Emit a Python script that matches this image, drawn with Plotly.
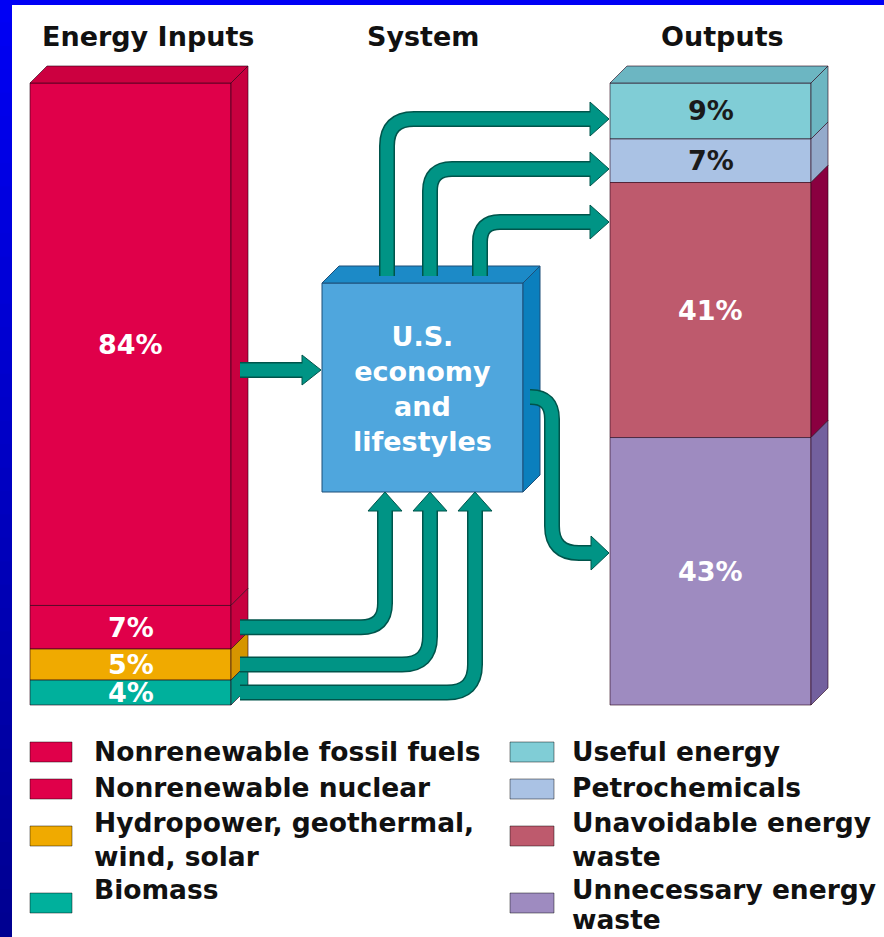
import plotly.graph_objects as go

# ---------------- data ----------------
titles = ["Energy Inputs", "System", "Outputs"]
input_labels = ["Nonrenewable fossil fuels", "Nonrenewable nuclear",
                "Hydropower, geothermal, wind, solar", "Biomass"]
input_values = [84, 7, 5, 4]
output_labels = ["Useful energy", "Petrochemicals",
                 "Unavoidable energy waste", "Unnecessary energy waste"]
output_values = [9, 7, 41, 43]
system_label = "U.S.<br>economy<br>and<br>lifestyles"

# ---------------- styling ----------------
input_colors = ["#e0004a", "#e0004a", "#f0aa00", "#00b09c"]
input_sides = ["#c8003f", "#c8003f", "#d69500", "#009886"]
input_top = "#cc0040"
input_text = ["white", "white", "white", "white"]
output_colors = ["#80cdd6", "#aac2e4", "#be5a6d", "#9e8bc0"]
output_sides = ["#6cb6c2", "#94aacb", "#8a0040", "#73609e"]
output_top = "#6cb6c2"
output_text = ["#1a1a1a", "#1a1a1a", "white", "white"]
legend_in_lines = [["Nonrenewable fossil fuels"], ["Nonrenewable nuclear"],
                   ["Hydropower, geothermal,", "wind, solar"], ["Biomass"]]
legend_out_lines = [["Useful energy"], ["Petrochemicals"],
                    ["Unavoidable energy", "waste"], ["Unnecessary energy", "waste"]]
TEAL = "#009485"
TEAL_DARK = "#00544b"
FONT = "DejaVu Sans"
FS = 27
FS_LEG = 26.5

W, H = 884, 937
S = 6.22      # pixels per percent
Y0 = 705      # pixel row of value 0


def Y(p):
    return (Y0 - p) / S


def P(v):
    return Y0 - v * S


fig = go.Figure()
shapes = []
annotations = []
D = 17            # depth in px
DY = D / S


def bounds(values):
    out = []
    for i, v in enumerate(values):
        b = sum(values[i + 1:])
        out.append((b, b + v))
    return out


def column(xc, width, values, colors, sides, topcol, labels, txtcols, names):
    x0, x1 = xc - width / 2, xc + width / 2
    bnds = bounds(values)
    for v, (b, t), c, n in zip(values, bnds, colors, names):
        fig.add_trace(go.Bar(x=[xc], y=[v], base=[b], width=[width], name=n,
                             marker=dict(color=c, line=dict(color="rgba(40,0,20,0.6)", width=1)),
                             showlegend=False, hoverinfo="skip"))
    total = sum(values)
    shapes.append(dict(type="path", xref="x", yref="y",
                       path=f"M {x0},{total} L {x1},{total} L {x1+D},{total+DY} L {x0+D},{total+DY} Z",
                       fillcolor=topcol, line=dict(color="rgba(40,0,20,0.6)", width=1), layer="above"))
    for (b, t), sc in zip(bnds, sides):
        shapes.append(dict(type="path", xref="x", yref="y",
                           path=f"M {x1},{b} L {x1+D},{b+DY} L {x1+D},{t+DY} L {x1},{t} Z",
                           fillcolor=sc, line=dict(color="rgba(40,0,20,0.6)", width=1), layer="above"))
    for v, (b, t), tc in zip(labels, bnds, txtcols):
        annotations.append(dict(x=xc, y=(b + t) / 2, xref="x", yref="y", text=f"{v}%",
                                showarrow=False, font=dict(family=FONT, size=FS, color=tc, weight="bold"),
                                xanchor="center", yanchor="middle"))
    return bnds


in_b = column(130.5, 201, input_values, input_colors, input_sides, input_top,
              input_values, input_text, input_labels)
out_b = column(710.5, 201, output_values, output_colors, output_sides, output_top,
               output_values, output_text, output_labels)

# ---------------- system box ----------------
bx0, bx1, by0, by1 = 322, 523, 283, 492
shapes.append(dict(type="rect", xref="x", yref="y", x0=bx0, x1=bx1, y0=Y(by1), y1=Y(by0),
                   fillcolor="#4fa6dd", line=dict(color="#1d4f78", width=1), layer="above"))
shapes.append(dict(type="path", xref="x", yref="y",
                   path=f"M {bx0},{Y(by0)} L {bx1},{Y(by0)} L {bx1+D},{Y(by0-D)} L {bx0+D},{Y(by0-D)} Z",
                   fillcolor="#1c8ac7", line=dict(color="#1d4f78", width=1), layer="above"))
shapes.append(dict(type="path", xref="x", yref="y",
                   path=f"M {bx1},{Y(by0)} L {bx1+D},{Y(by0-D)} L {bx1+D},{Y(by1-D)} L {bx1},{Y(by1)} Z",
                   fillcolor="#0b7fbd", line=dict(color="#1d4f78", width=1), layer="above"))
annotations.append(dict(x=(bx0 + bx1) / 2, y=Y(389), xref="x", yref="y", text=system_label,
                        showarrow=False, font=dict(family=FONT, size=FS, color="white", weight="bold"),
                        xanchor="center", yanchor="middle"))


# ---------------- arrows ----------------
def path_str(cmds):
    parts = []
    for c in cmds:
        if c[0] in ("M", "L"):
            parts.append(f"{c[0]} {c[1][0]},{Y(c[1][1])}")
        elif c[0] == "Q":
            parts.append(f"Q {c[1][0]},{Y(c[1][1])} {c[2][0]},{Y(c[2][1])}")
    return " ".join(parts)


def arrow(cmds, head, hh=17):
    kind, a, b, c = head
    if kind == "right":   # base x=a, tip x=b, y=c
        poly = [(a, c - hh), (b, c), (a, c + hh)]
        ext = ("L", (a + 3, c))
    else:                 # up: x=a, base y=b, tip y=c
        poly = [(a - hh, b), (a, c), (a + hh, b)]
        ext = ("L", (a, b - 3))
    shapes.append(dict(type="path", xref="x", yref="y", path=path_str(cmds),
                       fillcolor="rgba(0,0,0,0)", line=dict(color=TEAL_DARK, width=16), layer="above"))
    pp = "M " + " L ".join(f"{x},{Y(y)}" for x, y in poly) + " Z"
    shapes.append(dict(type="path", xref="x", yref="y", path=pp, fillcolor=TEAL,
                       line=dict(color=TEAL_DARK, width=1), layer="above"))
    shapes.append(dict(type="path", xref="x", yref="y", path=path_str(cmds + [ext]),
                       fillcolor="rgba(0,0,0,0)", line=dict(color=TEAL, width=13), layer="above"))


# inputs -> system (fossil)
arrow([("M", (240, 370)), ("L", (302, 370))], ("right", 302, 321, 370), hh=15)
# small inputs -> system bottom
xs_up = [385, 430, 475]
radii = [24, 28, 28]
for (b, t), xu, r in zip(in_b[1:], xs_up, radii):
    yc = P((b + t) / 2)
    arrow([("M", (240, yc)), ("L", (xu - r, yc)), ("Q", (xu, yc), (xu, yc - r)), ("L", (xu, 511))],
          ("up", xu, 511, 492))
# system -> outputs (top)
tops = [(387, 119, 27), (430, 169, 22), (480, 222, 20)]
for xu, yh, r in tops:
    arrow([("M", (xu, 276)), ("L", (xu, yh + r)), ("Q", (xu, yh), (xu + r, yh)), ("L", (590, yh))],
          ("right", 590, 609, yh))
# system -> unnecessary waste
arrow([("M", (530, 397)), ("L", (531, 397)), ("Q", (552, 397), (552, 419)), ("L", (552, 526)),
       ("Q", (552, 553), (579, 553)), ("L", (591, 553))], ("right", 591, 609, 553))

# ---------------- titles ----------------
for t, x in zip(titles, [148, 423, 722]):
    annotations.append(dict(x=x, y=Y(36), xref="x", yref="y", text=t, showarrow=False,
                            font=dict(family=FONT, size=FS, color="#111", weight="bold"),
                            xanchor="center", yanchor="middle"))

# ---------------- legend ----------------
sw_rows = [(742, 762), (779, 799), (826, 846), (893, 913)]
txt_rows = [[751], [787], [822, 856], [889, 919]]
for col, (sx0, sx1, tx, lines_all) in enumerate([(30, 72, 92, legend_in_lines),
                                                  (510, 554, 570, legend_out_lines)]):
    colors = input_colors if col == 0 else output_colors
    for (ry0, ry1), c, lines, ys in zip(sw_rows, colors, lines_all, txt_rows):
        shapes.append(dict(type="rect", xref="x", yref="y", x0=sx0, x1=sx1, y0=Y(ry1), y1=Y(ry0),
                           fillcolor=c, line=dict(color="rgba(0,0,0,0.45)", width=1), layer="above"))
        for ln, yy in zip(lines, ys):
            annotations.append(dict(x=tx, y=Y(yy), xref="x", yref="y", text=ln, showarrow=False,
                                    font=dict(family=FONT, size=FS_LEG, color="#111", weight="bold"),
                                    xanchor="left", yanchor="middle"))

# ---------------- blue frame ----------------
N = 40
for i in range(N):
    f = i / (N - 1)
    bcol = f"rgb(0,0,{int(245 - f * 100)})"
    shapes.append(dict(type="rect", xref="paper", yref="paper", x0=0, x1=12 / W,
                       y0=1 - (i + 1) / N, y1=1 - i / N + 0.001, fillcolor=bcol,
                       line=dict(width=0), layer="above"))
shapes.append(dict(type="rect", xref="paper", yref="paper", x0=0, x1=1, y0=1 - 5 / H, y1=1,
                   fillcolor="rgb(0,0,245)", line=dict(width=0), layer="above"))

fig.update_layout(
    width=W, height=H, margin=dict(l=0, r=0, t=0, b=0),
    paper_bgcolor="white", plot_bgcolor="white",
    barmode="overlay", showlegend=False,
    xaxis=dict(range=[0, W], visible=False, fixedrange=True),
    yaxis=dict(range=[Y(H), Y(0)], visible=False, fixedrange=True),
    shapes=shapes, annotations=annotations, hovermode=False,
)

fig.write_html("out.html", config={"displayModeBar": False})
